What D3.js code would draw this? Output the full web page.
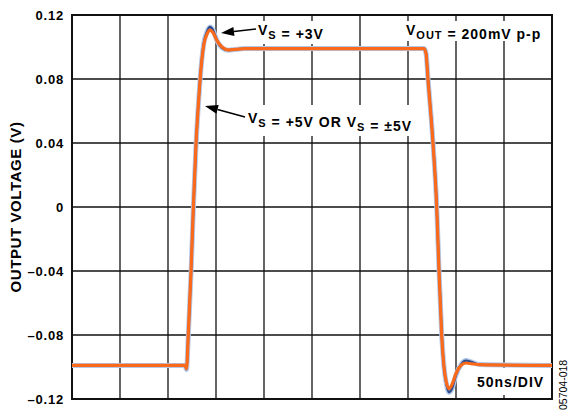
<!DOCTYPE html>
<html>
<head>
    <title>Output Voltage Step Response</title>
    <script src="https://d3js.org/d3.v7.min.js"></script>
    <style>
        html, body {
            margin: 0;
            padding: 0;
            background: white;
        }
        svg text {
            font-family: Arial, "Liberation Sans", sans-serif;
            fill: black;
        }
    </style>
</head>
<body>
<div id="chart"></div>
<script>
    // time base in ns (50ns/DIV, 10 divisions)
    const timeNs = [0, 117.7, 119.3, 121.1, 124, 126.4, 129.2, 132.3, 134.9, 137.5, 140.6, 143.75, 146.9, 151, 156.25, 162.5, 169.8, 180.2,
        366.7, 368.75, 370.8, 376, 379.9, 382.3, 385.1, 387.5, 390.1, 392.7, 395.8, 400, 405.2, 410.4, 416.7, 425, 500];

    // VS = +3V trace (blue)
    const vs3V = [-0.099, -0.099, -0.1015, -0.081, -0.041, -0.001, 0.039, 0.07, 0.09, 0.103, 0.1095, 0.1125, 0.1105, 0.104, 0.0995, 0.098, 0.0985, 0.099,
        0.099, 0.0962, 0.0805, 0.0405, 0.0005, -0.0395, -0.0795, -0.1, -0.111, -0.1158, -0.1135, -0.105, -0.0985, -0.096, -0.097, -0.0985, -0.099];

    // VS = +5V or VS = ±5V trace (orange)
    const vs5V = [-0.099, -0.099, -0.101, -0.08, -0.04, 0, 0.04, 0.07, 0.09, 0.102, 0.108, 0.1106, 0.109, 0.104, 0.1, 0.0982, 0.0985, 0.099,
        0.099, 0.096, 0.08, 0.04, 0, -0.04, -0.08, -0.1, -0.11, -0.1135, -0.111, -0.104, -0.099, -0.0975, -0.098, -0.0985, -0.099];

    const yTicks = [0.12, 0.08, 0.04, 0, -0.04, -0.08, -0.12];
    const yTickLabels = ["0.12", "0.08", "0.04", "0", "\u20130.04", "\u20130.08", "\u20130.12"];
    const xGrid = [0, 50, 100, 150, 200, 250, 300, 350, 400, 450, 500];

    const width = 569;
    const height = 412;
    const plotLeft = 72, plotRight = 552, plotTop = 15, plotBottom = 399;

    const svg = d3.select("#chart")
        .append("svg")
        .attr("width", width)
        .attr("height", height);

    const x = d3.scaleLinear().domain([0, 500]).range([plotLeft, plotRight]);
    const y = d3.scaleLinear().domain([-0.12, 0.12]).range([plotBottom, plotTop]);

    // grid
    svg.selectAll(".vgrid")
        .data(xGrid)
        .enter()
        .append("line")
        .attr("x1", d => x(d)).attr("x2", d => x(d))
        .attr("y1", plotTop).attr("y2", plotBottom)
        .attr("stroke", "#111")
        .attr("stroke-width", 1.3);

    svg.selectAll(".hgrid")
        .data(yTicks)
        .enter()
        .append("line")
        .attr("x1", plotLeft).attr("x2", plotRight)
        .attr("y1", d => y(d)).attr("y2", d => y(d))
        .attr("stroke", "#111")
        .attr("stroke-width", 1.3);

    // white boxes behind annotations (they cut the grid)
    const boxes = [
        [252, 21, 76, 23],
        [402, 21, 144, 20],
        [242, 105, 173, 31],
        [471, 368, 78, 27]
    ];
    svg.selectAll(".box")
        .data(boxes)
        .enter()
        .append("rect")
        .attr("x", d => d[0]).attr("y", d => d[1])
        .attr("width", d => d[2]).attr("height", d => d[3])
        .attr("fill", "white");

    // frame
    svg.append("rect")
        .attr("x", plotLeft).attr("y", plotTop)
        .attr("width", plotRight - plotLeft).attr("height", plotBottom - plotTop)
        .attr("fill", "none")
        .attr("stroke", "#111")
        .attr("stroke-width", 2);

    // traces
    const line = d3.line()
        .x((d, i) => x(timeNs[i]))
        .y(d => y(d))
        .curve(d3.curveMonotoneX);

    svg.append("path")
        .attr("d", line(vs3V))
        .attr("fill", "none")
        .attr("stroke", "#b3c8ea")
        .attr("stroke-width", 5);

    svg.append("path")
        .attr("d", line(vs3V))
        .attr("fill", "none")
        .attr("stroke", "#2b4a8c")
        .attr("stroke-width", 2.3);

    svg.append("path")
        .attr("d", line(vs5V))
        .attr("fill", "none")
        .attr("stroke", "#fb6a1a")
        .attr("stroke-width", 3.2)
        .attr("stroke-linejoin", "round");

    // y tick labels
    svg.selectAll(".ylab")
        .data(yTicks)
        .enter()
        .append("text")
        .attr("x", 64)
        .attr("y", d => y(d))
        .attr("dy", "0.36em")
        .attr("text-anchor", "end")
        .style("font-size", "13px")
        .style("font-weight", "bold")
        .style("letter-spacing", "0.8px")
        .text((d, i) => yTickLabels[i]);

    // y axis title
    svg.append("text")
        .attr("transform", "translate(21," + ((plotTop + plotBottom) / 2) + ") rotate(-90)")
        .attr("text-anchor", "middle")
        .style("font-size", "15px")
        .style("font-weight", "bold")
        .style("letter-spacing", "0.6px")
        .text("OUTPUT VOLTAGE (V)");

    // annotations
    function label(xp, yp, parts) {
        const t = svg.append("text")
            .attr("x", xp).attr("y", yp)
            .style("font-size", "14px")
            .style("font-weight", "bold")
            .style("letter-spacing", "1px");
        parts.forEach(p => {
            if (p.sub) {
                t.append("tspan").attr("dy", 4).style("font-size", "11px").text(p.sub);
                t.append("tspan").attr("dy", -4).text("");
            } else {
                t.append("tspan").text(p.t);
            }
        });
    }

    label(258, 35, [{t: "V"}, {sub: "S"}, {t: " = +3V"}]);
    label(406, 35, [{t: "V"}, {sub: "OUT"}, {t: " = 200mV p-p"}]);
    label(248, 123, [{t: "V"}, {sub: "S"}, {t: " = +5V OR V"}, {sub: "S"}, {t: " = \u00b15V"}]);
    label(477, 387, [{t: "50ns/DIV"}]);

    // arrows
    function arrow(x1, y1, x2, y2) {
        const ang = Math.atan2(y2 - y1, x2 - x1);
        const len = 13, half = 4.5;
        const bx = x2 - len * Math.cos(ang), by = y2 - len * Math.sin(ang);
        svg.append("line")
            .attr("x1", x1).attr("y1", y1)
            .attr("x2", bx).attr("y2", by)
            .attr("stroke", "black")
            .attr("stroke-width", 1.5);
        svg.append("path")
            .attr("d", d3.line()([
                [x2, y2],
                [bx + half * Math.sin(ang), by - half * Math.cos(ang)],
                [bx - half * Math.sin(ang), by + half * Math.cos(ang)]
            ]) + "Z")
            .attr("fill", "black");
    }

    arrow(256, 29, 221, 33);
    arrow(245, 117, 205, 106);

    // figure code
    svg.append("text")
        .attr("transform", "translate(567,410) rotate(-90)")
        .style("font-size", "10.5px")
        .text("05704-018");
</script>
</body>
</html>
